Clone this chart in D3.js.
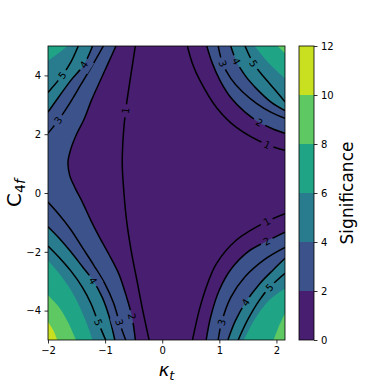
<!DOCTYPE html>
<html>
<head>
<meta charset="utf-8">
<script src="https://cdn.jsdelivr.net/npm/d3@7"></script>
<style>
  body { margin: 0; background: #fff; }
  text { font-family: "DejaVu Sans", sans-serif; }
</style>
</head>
<body>
<svg id="chart" width="382" height="382"></svg>
<script>
const kappaDomain = [-2, 2.15];
const cDomain = [-5, 5];
const kappaTicks = [-2, -1, 0, 1, 2];
const cTicks = [-4, -2, 0, 2, 4];
const fillLevels = [0, 2, 4, 6, 8, 10, 12];

// contour paths, [kappa_t, C_4f]; label = index of the point carrying the inline label
const level1 = [
    { side: "left", label: 2, points: [[-0.47, 5], [-0.55, 4], [-0.64, 2.8], [-0.68, 2], [-0.7, 1], [-0.67, 0], [-0.62, -1], [-0.54, -2], [-0.44, -3], [-0.34, -4], [-0.23, -5]] },
    { side: "topRight", label: 5, points: [[0.44, 5], [0.53, 4.4], [0.66, 3.83], [0.95, 2.91], [1.3, 2.23], [1.84, 1.64], [2.15, 1.45]] },
    { side: "bottomRight", label: 5, points: [[0.53, -5], [0.66, -3.9], [0.8, -3.05], [0.95, -2.4], [1.3, -1.6], [1.83, -0.97], [2.15, -0.7]] },
];
const level2 = [
    { side: "left", label: 16, points: [[-0.81, 5], [-0.95, 4.4], [-1.09, 3.8], [-1.24, 3.15], [-1.37, 2.5], [-1.5, 2.0], [-1.6, 1.5], [-1.65, 1.05], [-1.62, 0.6], [-1.52, 0.15], [-1.4, -0.3], [-1.25, -0.93], [-1.1, -1.5], [-0.93, -2.1], [-0.76, -2.75], [-0.63, -3.5], [-0.53, -4.2], [-0.47, -5]] },
    { side: "topRight", label: 5, points: [[0.78, 5], [0.88, 4.4], [1.02, 3.8], [1.2, 3.25], [1.45, 2.75], [1.7, 2.4], [1.95, 2.17], [2.15, 2.03]] },
    { side: "bottomRight", label: 5, points: [[0.77, -5], [0.85, -4.2], [1.0, -3.3], [1.2, -2.6], [1.5, -2.0], [1.83, -1.64], [2.15, -1.33]] },
];
const level3 = [
    { side: "topLeft", label: 1, points: [[-2, 2.03], [-1.82, 2.47], [-1.62, 3.05], [-1.42, 3.7], [-1.22, 4.35], [-1.03, 5]] },
    { side: "bottomLeft", label: 7, points: [[-2, -0.31], [-1.8, -0.75], [-1.6, -1.25], [-1.4, -1.85], [-1.2, -2.45], [-1.0, -3.1], [-0.85, -3.75], [-0.75, -4.4], [-0.64, -5]] },
    { side: "topRight", label: 1, points: [[0.98, 5], [1.06, 4.4], [1.2, 3.9], [1.4, 3.45], [1.65, 3.05], [1.9, 2.75], [2.15, 2.54]] },
    { side: "bottomRight", label: 1, points: [[0.98, -5], [1.04, -4.4], [1.2, -3.55], [1.45, -2.85], [1.8, -2.25], [2.15, -1.85]] },
];
const level4 = [
    { side: "topLeft", label: 3, points: [[-2, 2.75], [-1.8, 3.3], [-1.6, 3.83], [-1.37, 4.37], [-1.22, 5]] },
    { side: "bottomLeft", label: 4, points: [[-2, -1.15], [-1.8, -1.55], [-1.6, -2.0], [-1.4, -2.5], [-1.21, -2.98], [-1.05, -3.55], [-0.93, -4.2], [-0.83, -5]] },
    { side: "topRight", label: 1, points: [[1.2, 5], [1.3, 4.48], [1.45, 4.0], [1.65, 3.55], [1.9, 3.1], [2.15, 2.8]] },
    { side: "bottomRight", label: 2, points: [[1.15, -5], [1.28, -4.35], [1.46, -3.72], [1.7, -3.1], [1.95, -2.6], [2.15, -2.22]] },
];
const level5 = [
    { side: "topLeft", label: 1, points: [[-2, 3.42], [-1.75, 4.0], [-1.6, 4.45], [-1.47, 5]] },
    { side: "bottomLeft", label: 5, points: [[-2, -1.8], [-1.8, -2.2], [-1.6, -2.65], [-1.4, -3.2], [-1.25, -3.75], [-1.12, -4.4], [-0.99, -5]] },
    { side: "topRight", label: 1, points: [[1.45, 5], [1.6, 4.4], [1.8, 3.9], [2.0, 3.45], [2.15, 3.1]] },
    { side: "bottomRight", label: 3, points: [[1.33, -5], [1.5, -4.3], [1.7, -3.65], [1.88, -3.21], [2.15, -2.73]] },
];
const level6 = [
    { side: "topLeft", points: [[-2, 4.5], [-1.82, 4.75], [-1.66, 5]] },
    { side: "bottomLeft", points: [[-2, -2.3], [-1.8, -2.75], [-1.6, -3.3], [-1.45, -3.85], [-1.32, -4.45], [-1.22, -5]] },
    { side: "topRight", points: [[1.62, 5], [1.85, 4.45], [2.15, 3.9]] },
    { side: "bottomRight", points: [[1.43, -5], [1.65, -4.2], [1.9, -3.6], [2.15, -3.25]] },
];
const level8 = [
    { side: "bottomLeft", points: [[-2, -3.48], [-1.8, -3.9], [-1.65, -4.4], [-1.51, -5]] },
    { side: "topRight", points: [[2.02, 5], [2.15, 4.75]] },
    { side: "bottomRight", points: [[1.95, -5], [2.05, -4.5], [2.15, -4.1]] },
];
const level10 = [
    { side: "bottomLeft", points: [[-2, -4.39], [-1.9, -4.7], [-1.84, -5]] },
];

const fillContours = [[2, level2], [4, level4], [6, level6], [8, level8], [10, level10]];
const lineContours = [[1, level1], [2, level2], [3, level3], [4, level4], [5, level5]];

const svg = d3.select("#chart");
const plot = { left: 48, right: 285, top: 46, bottom: 340 };
const cbar = { left: 299, right: 314 };

const x = d3.scaleLinear().domain(kappaDomain).range([plot.left, plot.right]);
const y = d3.scaleLinear().domain(cDomain).range([plot.bottom, plot.top]);
const yc = d3.scaleLinear().domain([0, 12]).range([plot.bottom, plot.top]);
const bandColor = (lvl) => d3.interpolateViridis((lvl / 2 + 0.5) / 6);

const closeCorners = {
    left: [[kappaDomain[0], cDomain[0]], [kappaDomain[0], cDomain[1]]],
    topLeft: [[kappaDomain[0], cDomain[1]]],
    bottomLeft: [[kappaDomain[0], cDomain[0]]],
    topRight: [[kappaDomain[1], cDomain[1]]],
    bottomRight: [[kappaDomain[1], cDomain[0]]],
};

const curve = d3.line().x((d) => x(d[0])).y((d) => y(d[1])).curve(d3.curveCatmullRom);

const defs = svg.append("defs");
defs.append("clipPath").attr("id", "plotClip")
    .append("rect")
    .attr("x", plot.left).attr("y", plot.top)
    .attr("width", plot.right - plot.left).attr("height", plot.bottom - plot.top);

const g = svg.append("g").attr("clip-path", "url(#plotClip)");

// filled bands
g.append("rect")
    .attr("x", plot.left).attr("y", plot.top)
    .attr("width", plot.right - plot.left).attr("height", plot.bottom - plot.top)
    .attr("fill", bandColor(0));

fillContours.forEach(([lvl, pieces]) => {
    g.selectAll(null)
        .data(pieces)
        .join("path")
        .attr("d", (p) => curve(p.points) + closeCorners[p.side].map((c) => `L${x(c[0])},${y(c[1])}`).join("") + "Z")
        .attr("fill", bandColor(lvl));
});

// inline labels
const labels = [];
lineContours.forEach(([lvl, pieces]) => {
    pieces.forEach((p) => {
        const i = p.label;
        const a = p.points[Math.max(0, i - 1)];
        const b = p.points[Math.min(p.points.length - 1, i + 1)];
        let ang = (Math.atan2(y(b[1]) - y(a[1]), x(b[0]) - x(a[0])) * 180) / Math.PI;
        if (ang > 90) ang -= 180;
        if (ang < -90) ang += 180;
        labels.push({ lvl, px: x(p.points[i][0]), py: y(p.points[i][1]), ang });
    });
});

const mask = defs.append("mask").attr("id", "labelGaps")
    .attr("maskUnits", "userSpaceOnUse")
    .attr("x", 0).attr("y", 0).attr("width", 382).attr("height", 382);
mask.append("rect").attr("width", 382).attr("height", 382).attr("fill", "white");
mask.selectAll(null)
    .data(labels)
    .join("rect")
    .attr("x", -6.5).attr("y", -8).attr("width", 13).attr("height", 16)
    .attr("transform", (d) => `translate(${d.px},${d.py}) rotate(${d.ang})`)
    .attr("fill", "black");

const lines = g.append("g").attr("mask", "url(#labelGaps)");
lineContours.forEach(([lvl, pieces]) => {
    lines.selectAll(null)
        .data(pieces)
        .join("path")
        .attr("d", (p) => curve(p.points))
        .attr("fill", "none")
        .attr("stroke", "black")
        .attr("stroke-width", 1.5);
});

g.selectAll(".clabel")
    .data(labels)
    .join("text")
    .attr("class", "clabel")
    .attr("transform", (d) => `translate(${d.px},${d.py}) rotate(${d.ang})`)
    .attr("text-anchor", "middle")
    .attr("dy", "0.36em")
    .attr("font-size", 10)
    .text((d) => d.lvl);

// axes
const xAxis = svg.append("g")
    .attr("transform", `translate(0,${plot.bottom})`)
    .call(d3.axisBottom(x).tickValues(kappaTicks).tickSize(3.5).tickPadding(3.5).tickFormat(d3.format("d")));
const yAxis = svg.append("g")
    .attr("transform", `translate(${plot.left},0)`)
    .call(d3.axisLeft(y).tickValues(cTicks).tickSize(3.5).tickPadding(3.5).tickFormat(d3.format("d")));
[xAxis, yAxis].forEach((ax) => {
    ax.select(".domain").remove();
    ax.selectAll("text").attr("font-size", 10).attr("fill", "black").attr("font-family", "DejaVu Sans");
    ax.selectAll("line").attr("stroke", "black").attr("stroke-width", 0.8);
});

svg.append("rect")
    .attr("x", plot.left).attr("y", plot.top)
    .attr("width", plot.right - plot.left).attr("height", plot.bottom - plot.top)
    .attr("fill", "none").attr("stroke", "black").attr("stroke-width", 0.8);

// colorbar
const bands = d3.range(fillLevels.length - 1);
svg.append("g")
    .selectAll("rect")
    .data(bands)
    .join("rect")
    .attr("x", cbar.left)
    .attr("width", cbar.right - cbar.left)
    .attr("y", (i) => yc(fillLevels[i + 1]))
    .attr("height", (i) => yc(fillLevels[i]) - yc(fillLevels[i + 1]))
    .attr("fill", (i) => bandColor(fillLevels[i]));

const cAxis = svg.append("g")
    .attr("transform", `translate(${cbar.right},0)`)
    .call(d3.axisRight(yc).tickValues(fillLevels).tickSize(3.5).tickPadding(3.5).tickFormat(d3.format("d")));
cAxis.select(".domain").remove();
cAxis.selectAll("text").attr("font-size", 10).attr("fill", "black").attr("font-family", "DejaVu Sans");
cAxis.selectAll("line").attr("stroke", "black").attr("stroke-width", 0.8);

svg.append("rect")
    .attr("x", cbar.left).attr("y", plot.top)
    .attr("width", cbar.right - cbar.left).attr("height", plot.bottom - plot.top)
    .attr("fill", "none").attr("stroke", "black").attr("stroke-width", 0.8);

// axis titles
const xLabel = svg.append("text")
    .attr("x", (plot.left + plot.right) / 2)
    .attr("y", 376)
    .attr("text-anchor", "middle")
    .attr("font-size", 18);
xLabel.append("tspan").attr("font-style", "italic").text("κ");
xLabel.append("tspan").attr("font-style", "italic").attr("font-size", 13).attr("dy", 4).text("t");

const yLabel = svg.append("text")
    .attr("transform", `translate(21,${(plot.top + plot.bottom) / 2}) rotate(-90)`)
    .attr("text-anchor", "middle")
    .attr("font-size", 20);
yLabel.append("tspan").text("C");
yLabel.append("tspan").attr("font-size", 14).attr("dy", 4).text("4");
yLabel.append("tspan").attr("font-size", 14).attr("font-style", "italic").text("f");

svg.append("text")
    .attr("transform", `translate(353,${(plot.top + plot.bottom) / 2}) rotate(-90)`)
    .attr("text-anchor", "middle")
    .attr("font-size", 17)
    .text("Significance");
</script>
</body>
</html>
